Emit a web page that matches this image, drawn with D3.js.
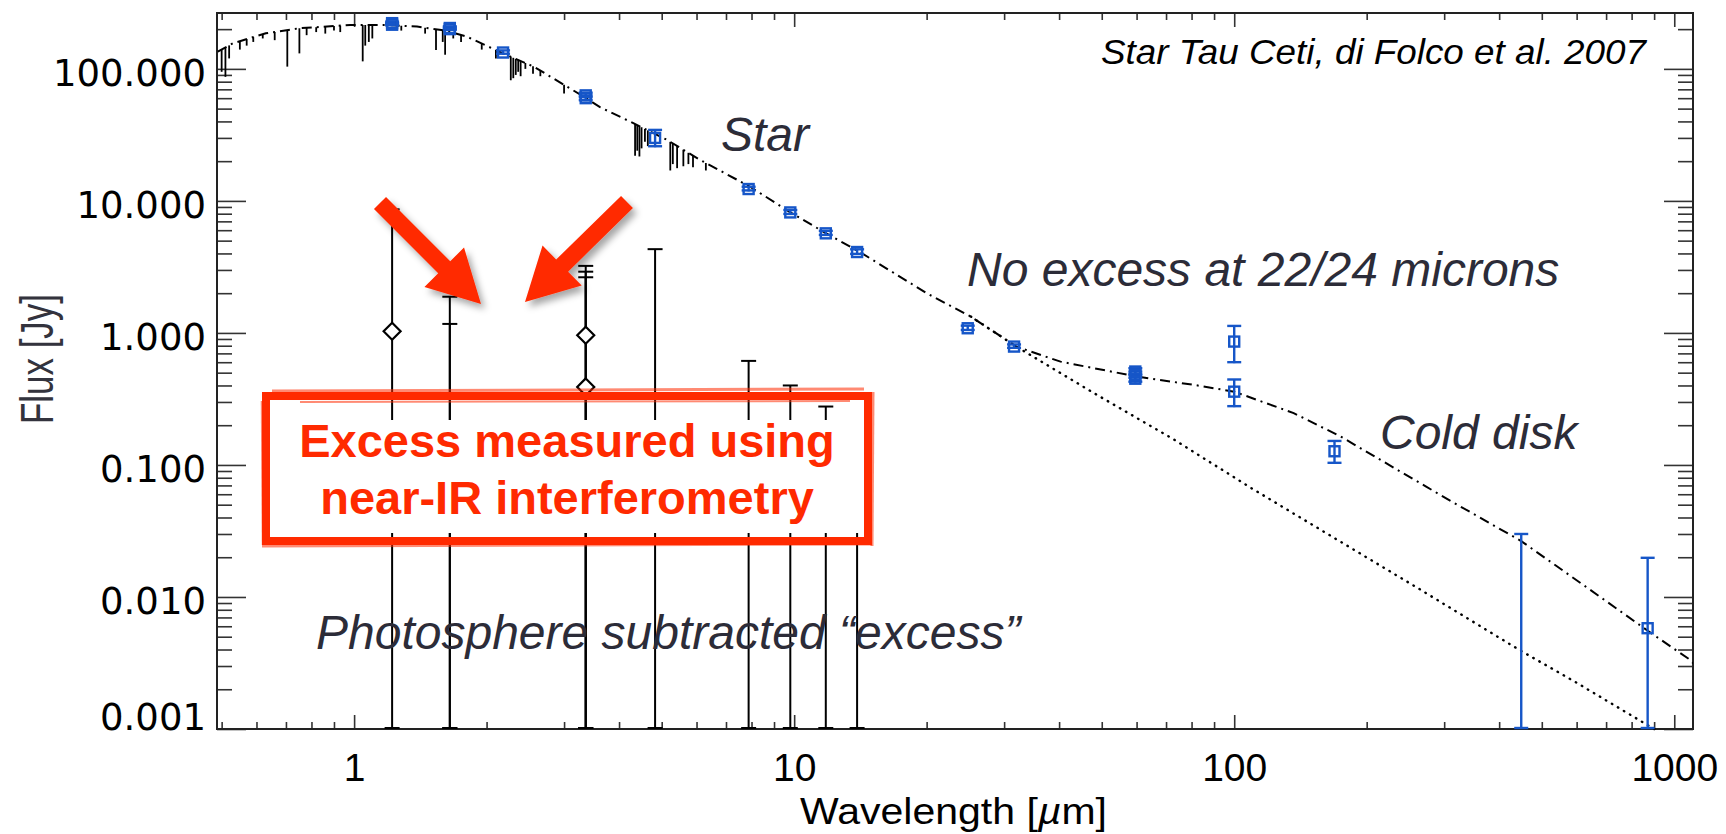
<!DOCTYPE html>
<html>
<head>
<meta charset="utf-8">
<script src="https://cdn.jsdelivr.net/npm/d3@7"></script>
<style>
  body { margin: 0; background: #fff; }
  svg { display: block; font-family: "Liberation Sans", Arial, sans-serif; }
</style>
</head>
<body>
<svg id="chart"></svg>
<script>
var width = 1726,
    height = 834;

// tick labels
var xMajor = [1, 10, 100, 1000];
var yMajor = [0.001, 0.01, 0.1, 1, 10, 100];

// star + disk model (dash-dot)
var modelWave = [0.49, 0.53, 0.63, 0.75, 0.98, 1.19, 1.39, 1.61, 1.80, 2.18, 2.56, 3.32, 3.62, 4.31, 5.14, 6.12, 7.94, 9.8, 11.8, 14.1, 20, 25.2, 32, 40.3, 60.1, 81, 100, 136.5, 174.6, 273, 315, 449, 679, 867, 1078, 1110];
var modelFlux = [135, 156, 186, 203, 215, 215, 209, 195, 176, 131, 104, 61.8, 51.3, 38.8, 29, 20.4, 12.8, 8.2, 5.7, 4.1, 2.0, 1.33, 0.787, 0.606, 0.467, 0.404, 0.359, 0.247, 0.164, 0.0685, 0.0519, 0.0265, 0.0100, 0.0056, 0.0034, 0.0031];

// photosphere only (dotted)
var photoWave = [25.2, 32, 48, 72, 110, 170, 260, 443, 600, 870, 950];
var photoFlux = [1.33, 0.787, 0.35, 0.16, 0.066, 0.0276, 0.0118, 0.0040, 0.00224, 0.00107, 0.0009];

// absorption features in the stellar spectrum: wavelength and flux at the bottom of the line
var lineWave = [0.50, 0.51, 0.52, 0.55, 0.57, 0.59, 0.62, 0.66, 0.705, 0.751, 0.78, 0.82, 0.86, 0.90, 0.93, 1.046, 1.06, 1.08, 1.10, 1.28, 1.45, 1.535, 1.59, 1.61, 1.68, 1.75, 1.95, 2.10, 2.27, 2.30, 2.33, 2.36, 2.39, 2.45, 2.55, 2.65, 3.0, 4.35, 4.40, 4.45, 4.50, 4.58, 4.65, 5.23, 5.30, 5.42, 5.60, 5.75, 5.89, 6.3];
var lineFlux = [95, 87, 120, 140, 150, 160, 170, 165, 104, 131, 180, 190, 185, 195, 190, 114, 150, 160, 170, 195, 185, 139, 160, 128, 170, 160, 140, 120, 82, 85, 90, 95, 88, 100, 92, 88, 65, 22, 24, 21.7, 25, 28, 26, 17, 19, 17.7, 18.3, 19, 18, 17];

// photometry (blue squares)
var photWave = [1.22, 1.22, 1.65, 1.65, 2.18, 3.36, 3.36, 4.83, 7.88, 9.8, 11.8, 13.9, 24.8, 31.6, 59.6, 59.6, 59.6, 100, 100, 169, 449, 870];
var photFlux = [216, 222, 200, 204, 133, 60, 63, 30, 12.3, 8.18, 5.68, 4.1, 1.085, 0.788, 0.51, 0.48, 0.45, 0.86, 0.359, 0.127, 0, 0.0058];
var photErr  = [6, 6, 6, 6, 5, 3, 3, 4.5, 0.5, 0.35, 0.25, 0.2, 0.05, 0.03, 0.03, 0.03, 0.03, 0.27, 0.085, 0.025, 0.03, 0.014];

// photosphere subtracted excess (black diamonds)
var excWave = [1.22, 1.65, 1.65, 3.36, 3.36, 3.36, 4.83, 7.88, 9.8, 11.8, 13.9];
var excFlux = [1.03, 0, 0, 0.96, 0.39, 0, 0, 0, 0, 0, 0];
var excErr  = [7.6, 1.88, 1.17, 2.26, 2.52, 2.64, 4.31, 0.614, 0.40, 0.277, 0.21];

var svg = d3.select("#chart")
            .attr("width", width)
            .attr("height", height);

svg.append("rect").attr("width", width).attr("height", height).attr("fill", "#fff");

var x = d3.scaleLog().domain([0.488, 1103]).range([217, 1693]);
var y = d3.scaleLog().domain([0.001, 265]).range([729, 13]);

var defs = svg.append("defs");
defs.append("clipPath").attr("id", "plotclip")
    .append("rect").attr("x", 217).attr("y", 11).attr("width", 1476).attr("height", 720);
var shadow = defs.append("filter").attr("id", "shadow")
    .attr("x", "-40%").attr("y", "-40%").attr("width", "180%").attr("height", "180%");
shadow.append("feDropShadow").attr("dx", 4).attr("dy", 5).attr("stdDeviation", 3.5)
      .attr("flood-color", "#000").attr("flood-opacity", 0.35);

// ---- axes ----
var xMinor = x.ticks().filter(function(d) { return xMajor.indexOf(d) < 0; });
var yMinor = y.ticks().filter(function(d) { return yMajor.indexOf(d) < 0; });

function styleAxis(g) {
  g.select(".domain").remove();
  g.selectAll(".tick line").attr("stroke", "#333").attr("stroke-width", 1.6);
  g.attr("font-size", null).attr("font-family", null);
}

var bottom = svg.append("g").attr("transform", "translate(0,729)");
bottom.append("g").call(d3.axisBottom(x).tickValues(xMajor).tickSize(-14).tickSizeOuter(0)
      .tickPadding(24).tickFormat(d3.format("d"))).call(styleAxis)
  .selectAll("text").attr("font-size", 39).attr("fill", "#000")
  .attr("font-family", "'Liberation Sans', Arial, sans-serif");
bottom.append("g").call(d3.axisBottom(x).tickValues(xMinor).tickSize(-7).tickSizeOuter(0)
      .tickFormat("")).call(styleAxis);

var topAx = svg.append("g").attr("transform", "translate(0,13)");
topAx.append("g").call(d3.axisTop(x).tickValues(xMajor).tickSize(-14).tickSizeOuter(0).tickFormat("")).call(styleAxis);
topAx.append("g").call(d3.axisTop(x).tickValues(xMinor).tickSize(-7).tickSizeOuter(0).tickFormat("")).call(styleAxis);

var leftAx = svg.append("g").attr("transform", "translate(217,0)");
leftAx.append("g").call(d3.axisLeft(y).tickValues(yMajor).tickSize(-29).tickSizeOuter(0)
      .tickPadding(11).tickFormat(d3.format(".3f"))).call(styleAxis)
  .selectAll("text").attr("font-size", 37).attr("fill", "#000")
  .attr("font-family", "'DejaVu Sans', sans-serif")
  .attr("dy", function(d) { return d === 0.001 ? "0.02em" : "0.45em"; });
leftAx.append("g").call(d3.axisLeft(y).tickValues(yMinor).tickSize(-15).tickSizeOuter(0).tickFormat("")).call(styleAxis);

var rightAx = svg.append("g").attr("transform", "translate(1693,0)");
rightAx.append("g").call(d3.axisRight(y).tickValues(yMajor).tickSize(-29).tickSizeOuter(0).tickFormat("")).call(styleAxis);
rightAx.append("g").call(d3.axisRight(y).tickValues(yMinor).tickSize(-15).tickSizeOuter(0).tickFormat("")).call(styleAxis);

svg.append("rect").attr("x", 217).attr("y", 13).attr("width", 1476).attr("height", 716)
   .attr("fill", "none").attr("stroke", "#222").attr("stroke-width", 2);

// axis titles
svg.append("text")
   .attr("transform", "translate(53,359) rotate(-90)")
   .attr("text-anchor", "middle")
   .attr("font-size", 46)
   .attr("textLength", 130).attr("lengthAdjust", "spacingAndGlyphs")
   .attr("fill", "#33333d")
   .text("Flux [Jy]");

var xt = svg.append("text")
   .attr("x", 800).attr("y", 824)
   .attr("font-size", 37)
   .attr("textLength", 307).attr("lengthAdjust", "spacingAndGlyphs")
   .attr("fill", "#000");
xt.append("tspan").text("Wavelength [");
xt.append("tspan").attr("font-style", "italic").text("\u00b5");
xt.append("tspan").text("m]");

// ---- plot content ----
var plot = svg.append("g").attr("clip-path", "url(#plotclip)");

var line = d3.line()
  .x(function(d) { return x(d[0]); })
  .y(function(d) { return y(d[1]); });

var model = modelWave.map(function(w, i) { return [w, modelFlux[i]]; });
var photo = photoWave.map(function(w, i) { return [w, photoFlux[i]]; });

plot.append("path").datum(photo)
    .attr("d", line)
    .attr("fill", "none").attr("stroke", "#000").attr("stroke-width", 2.4)
    .attr("stroke-linecap", "round")
    .attr("stroke-dasharray", "0.5,6.5");

plot.append("path").datum(model)
    .attr("d", line)
    .attr("fill", "none").attr("stroke", "#000").attr("stroke-width", 2)
    .attr("stroke-dasharray", "10,5,2,5");

// continuum under each absorption line (log-log interpolation of the model)
var contLog = d3.scaleLinear()
  .domain(modelWave.map(Math.log10))
  .range(modelFlux.map(Math.log10));

plot.selectAll("line.absorb")
    .data(lineWave.map(function(w, i) { return { w: w, f: lineFlux[i] }; }))
  .enter().append("line")
    .attr("class", "absorb")
    .attr("x1", function(d) { return x(d.w); })
    .attr("x2", function(d) { return x(d.w); })
    .attr("y1", function(d) { return y(Math.pow(10, contLog(Math.log10(d.w)))); })
    .attr("y2", function(d) { return y(d.f); })
    .attr("stroke", "#000").attr("stroke-width", 1.8);

var yMin = y.domain()[0];
function yLow(d) { var v = d.v - d.e; return v > yMin ? y(v) : y.range()[0]; }
function yHigh(d) { return y(d.v + d.e); }

function errorBars(g, data, color, capW, sw) {
  var bars = g.selectAll(null).data(data).enter().append("g");
  bars.append("line")
      .attr("x1", function(d) { return x(d.w); })
      .attr("x2", function(d) { return x(d.w); })
      .attr("y1", yLow).attr("y2", yHigh)
      .attr("stroke", color).attr("stroke-width", sw);
  bars.append("line")
      .attr("x1", function(d) { return x(d.w) - capW / 2; })
      .attr("x2", function(d) { return x(d.w) + capW / 2; })
      .attr("y1", yHigh).attr("y2", yHigh)
      .attr("stroke", color).attr("stroke-width", sw);
  bars.append("line")
      .attr("x1", function(d) { return x(d.w) - capW / 2; })
      .attr("x2", function(d) { return x(d.w) + capW / 2; })
      .attr("y1", function(d) { return yLow(d) - 1; }).attr("y2", function(d) { return yLow(d) - 1; })
      .attr("stroke", color).attr("stroke-width", sw);
}

var excData = excWave.map(function(w, i) { return { w: w, v: excFlux[i], e: excErr[i] }; });
errorBars(plot, excData, "#000", 15, 2);

plot.selectAll("path.diamond")
    .data(excData.filter(function(d) { return d.v > yMin; }))
  .enter().append("path")
    .attr("class", "diamond")
    .attr("d", function(d) {
      var cx = x(d.w), cy = y(d.v), r = 8.5;
      return "M" + cx + "," + (cy - r) + "L" + (cx + r) + "," + cy + "L" + cx + "," + (cy + r) + "L" + (cx - r) + "," + cy + "Z";
    })
    .attr("fill", "#fff").attr("stroke", "#000").attr("stroke-width", 2.2);

var blue = "#1656c8";
var photData = photWave.map(function(w, i) { return { w: w, v: photFlux[i], e: photErr[i] }; });
errorBars(plot, photData, blue, 14, 2.4);

plot.selectAll("rect.phot")
    .data(photData.filter(function(d) { return d.v > yMin; }))
  .enter().append("rect")
    .attr("class", "phot")
    .attr("x", function(d) { return x(d.w) - 5; })
    .attr("y", function(d) { return y(d.v) - 5; })
    .attr("width", 10).attr("height", 10)
    .attr("fill", "none").attr("stroke", blue).attr("stroke-width", 2.4);

// ---- annotations ----
function note(txt, xp, yp, size, color, anchor) {
  return svg.append("text")
     .attr("x", xp).attr("y", yp)
     .attr("font-size", size)
     .attr("font-style", "italic")
     .attr("fill", color)
     .attr("text-anchor", anchor || "start")
     .text(txt);
}
note("Star Tau Ceti, di Folco et al. 2007", 1101, 64, 35, "#000")
  .attr("textLength", 545).attr("lengthAdjust", "spacingAndGlyphs");
note("Star", 721, 151, 48, "#2c2c38");
note("No excess at 22/24 microns", 967, 286, 48, "#2c2c38");
note("Cold disk", 1380, 449, 48, "#2c2c38");
note("Photosphere subtracted \u201cexcess\u201d", 316, 649, 48, "#2c2c38");

var red = "#ff2a00";
svg.append("rect").attr("x", 270).attr("y", 420).attr("width", 594).attr("height", 113).attr("fill", "#fff");
svg.append("rect").attr("x", 266).attr("y", 396).attr("width", 602).attr("height", 145)
   .attr("fill", "none").attr("stroke", red).attr("stroke-width", 8);
var rough = [[272, 391, 864, 389, 3], [262, 401, 263, 545, 2.5], [262, 546, 872, 544, 3], [873, 392, 872, 546, 3], [300, 402, 850, 401, 2]];
svg.selectAll("line.rough").data(rough).enter().append("line")
   .attr("x1", function(d) { return d[0]; }).attr("y1", function(d) { return d[1]; })
   .attr("x2", function(d) { return d[2]; }).attr("y2", function(d) { return d[3]; })
   .attr("stroke", red).attr("stroke-width", function(d) { return d[4]; })
   .attr("stroke-opacity", 0.55);

var boxText = svg.append("text").attr("text-anchor", "middle").attr("font-size", 47)
   .attr("font-weight", "bold").attr("fill", red);
boxText.append("tspan").attr("x", 567).attr("y", 457).text("Excess measured using");
boxText.append("tspan").attr("x", 567).attr("y", 514).text("near-IR interferometry");

function arrow(x0, y0, x1, y1) {
  var dx = x1 - x0, dy = y1 - y0, L = Math.sqrt(dx * dx + dy * dy);
  var ux = dx / L, uy = dy / L, px = -uy, py = ux;
  var shaft = 17, headW = 56, headL = 52;
  var bx = x1 - ux * headL, by = y1 - uy * headL;
  var pts = [
    [x0 + px * shaft / 2, y0 + py * shaft / 2],
    [bx + px * shaft / 2, by + py * shaft / 2],
    [bx + px * headW / 2, by + py * headW / 2],
    [x1, y1],
    [bx - px * headW / 2, by - py * headW / 2],
    [bx - px * shaft / 2, by - py * shaft / 2],
    [x0 - px * shaft / 2, y0 - py * shaft / 2]
  ];
  svg.append("polygon")
     .attr("points", pts.map(function(p) { return p.join(","); }).join(" "))
     .attr("fill", red)
     .attr("filter", "url(#shadow)");
}
arrow(380, 203, 481, 304);
arrow(627, 202, 525, 302);
</script>
</body>
</html>
